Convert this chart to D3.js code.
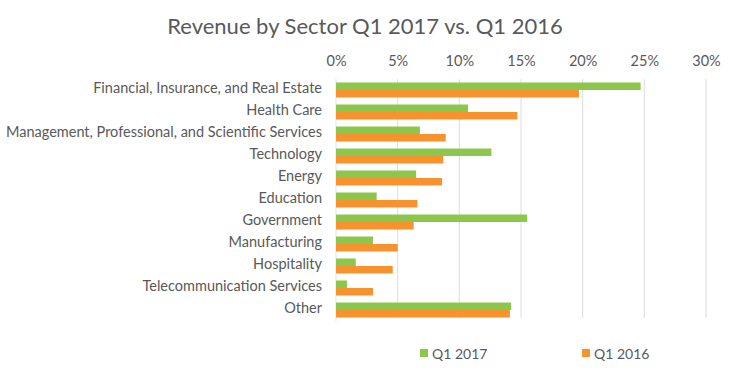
<!DOCTYPE html>
<html>
<head>
<meta charset="utf-8">
<script src="https://cdn.jsdelivr.net/npm/d3@7"></script>
<style>
  body { margin: 0; background: #fff; }
  text { font-family: Lato, "Open Sans", sans-serif; fill: #595959; }
</style>
</head>
<body>
<div class="chart"></div>
<script>
// data
var sectors = ["Financial, Insurance, and Real Estate", "Health Care",
  "Management, Professional, and Scientific Services", "Technology", "Energy",
  "Education", "Government", "Manufacturing", "Hospitality",
  "Telecommunication Services", "Other"];
var q1_2017 = [24.7, 10.7, 6.8, 12.6, 6.5, 3.3, 15.5, 3.0, 1.6, 0.9, 14.2];
var q1_2016 = [19.7, 14.7, 8.9, 8.7, 8.6, 6.6, 6.3, 5.0, 4.6, 3.0, 14.1];
var seriesNames = ["Q1 2017", "Q1 2016"];
var ticks = [0, 5, 10, 15, 20, 25, 30];

var colors = ["#8dc64c", "#f7932f"];

var svg = d3.select(".chart").append("svg")
            .attr("width", 730)
            .attr("height", 371);

var x = d3.scaleLinear().domain([0, 30]).range([336, 706]);
var y = d3.scaleBand().domain(sectors).range([79, 321]);

// title
svg.append("text")
   .attr("x", 365)
   .attr("y", 34)
   .attr("text-anchor", "middle")
   .style("font-size", "22px")
   .text("Revenue  by Sector Q1 2017 vs. Q1 2016");

// gridlines
svg.selectAll(".grid")
   .data(ticks.slice(1))
   .enter().append("line")
   .attr("x1", function(d) { return x(d); })
   .attr("x2", function(d) { return x(d); })
   .attr("y1", 79)
   .attr("y2", 318)
   .attr("stroke", "#dcdcdc")
   .attr("stroke-width", 1);

// top axis
var axis = d3.axisTop(x).tickValues(ticks).tickSize(0)
             .tickFormat(function(d) { return d + "%"; });
var ax = svg.append("g").attr("transform", "translate(0,69)").call(axis);
ax.select(".domain").remove();
ax.selectAll("text").style("font-size", "14.5px").attr("fill", "#595959");

// left axis line
svg.append("line")
   .attr("x1", x(0)).attr("x2", x(0))
   .attr("y1", 79).attr("y2", 321)
   .attr("stroke", "#e3e3e3");

// category labels
svg.selectAll(".cat")
   .data(sectors)
   .enter().append("text")
   .attr("x", 322)
   .attr("y", function(d) { return y(d) + y.bandwidth() / 2 - 3; })
   .attr("text-anchor", "end")
   .attr("dominant-baseline", "central")
   .style("font-size", "14.5px")
   .text(function(d) { return d; });

var barH = 7.5;
var series = [q1_2017, q1_2016];
series.forEach(function(vals, s) {
  svg.selectAll(".bar" + s)
     .data(vals)
     .enter().append("rect")
     .attr("x", x(0))
     .attr("y", function(d, i) { return y(sectors[i]) + y.bandwidth() / 2 - barH + s * barH; })
     .attr("width", function(d) { return x(d) - x(0); })
     .attr("height", barH)
     .style("fill", colors[s]);
});

// legend
var legX = [420, 582];
seriesNames.forEach(function(name, s) {
  svg.append("rect")
     .attr("x", legX[s])
     .attr("y", 349)
     .attr("width", 8)
     .attr("height", 8)
     .style("fill", colors[s]);
  svg.append("text")
     .attr("x", legX[s] + 12)
     .attr("y", 353)
     .attr("dominant-baseline", "central")
     .style("font-size", "14px")
     .text(name);
});
</script>
</body>
</html>
